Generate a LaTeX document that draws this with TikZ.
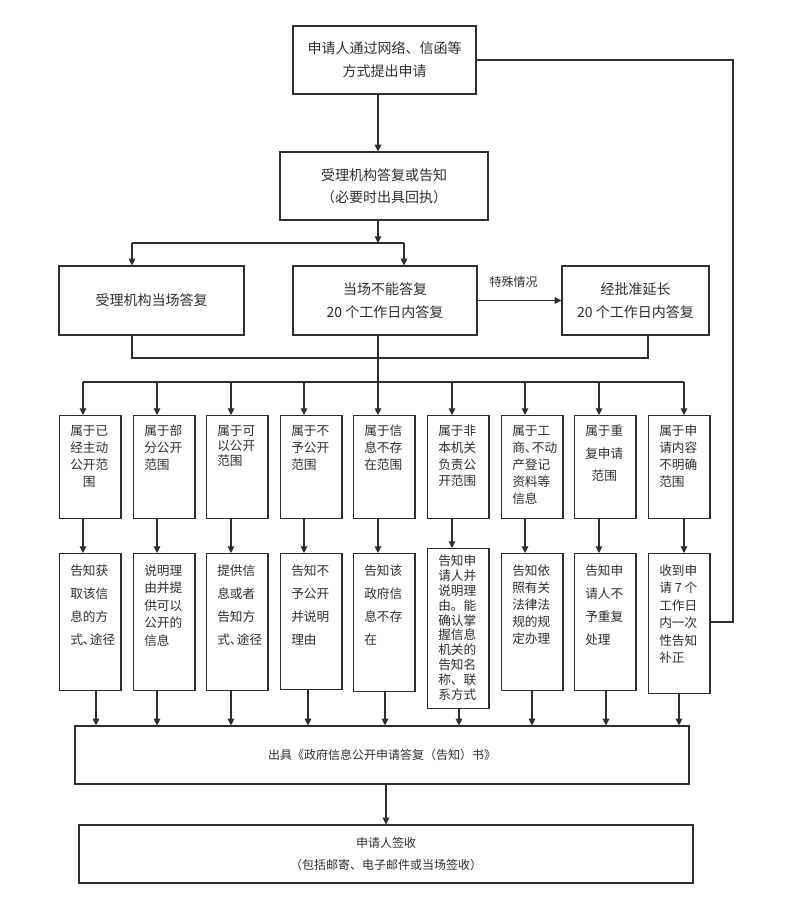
\documentclass[tikz,border=0pt]{standalone}
\usepackage{fontspec}
\setmainfont{Noto Sans CJK SC}
\usetikzlibrary{positioning,arrows.meta}
\definecolor{ink}{HTML}{2E2E2E}
\begin{document}
\begin{tikzpicture}[x=0.75pt,y=-0.75pt,
            every node/.style = {text=ink},
            box/.style = {draw=ink, line width=0.9pt, align=center,
                          font=\fontsize{10.5}{17.25}\selectfont},
            cell/.style = {draw=ink, line width=0.9pt, anchor=north west,
                           minimum width=46.1pt, inner sep=0pt},
            celltext/.style = {inner sep=0pt, align=left},
            conn/.style = {draw=ink, line width=0.8pt},
            arr/.style = {conn, -{Triangle[length=5pt,width=5pt]}}]
\useasboundingbox (0,0) rectangle (794,899);

% upper part
\node[box, minimum width=137.25pt, minimum height=51pt] (apply) at (384.5,60)
        {申请人通过网络、信函等\\方式提出申请};
\node[box, minimum width=156pt, minimum height=51pt,
      font=\fontsize{10.5}{16.5}\selectfont] (ack) at (384,186)
        {受理机构答复或告知\\（必要时出具回执）};
\node[box, minimum width=138.75pt, minimum height=51.75pt] (onsite) at (151.5,300.5)
        {受理机构当场答复};
\node[box, minimum width=138pt, minimum height=51.75pt] (defer) at (385,300.5)
        {当场不能答复\\20 个工作日内答复};
\node[box, minimum width=110.25pt, minimum height=51.75pt] (extend) at (635.5,300.5)
        {经批准延长\\20 个工作日内答复};

% lower part
\node[box, minimum width=460.5pt, minimum height=43.5pt,
      font=\fontsize{9}{16.5}\selectfont] (issue) at (382,755)
        {出具《政府信息公开申请答复（告知）书》};
\node[box, minimum width=460.5pt, minimum height=43.5pt,
      font=\fontsize{9}{16.5}\selectfont] (sign) at (386,854)
        {申请人签收\\（包括邮寄、电子邮件或当场签收）};

\coordinate (trunk) at (378,243);
\coordinate (brl) at (132,243);
\coordinate (brr) at (404,243);
\coordinate (jl) at (132,358);
\coordinate (jr) at (648,358);
\coordinate (rowl) at (83,382);
\coordinate (rowr) at (684,382);
\coordinate (back) at (733,622);

\draw[arr] (apply.south -| trunk) -- (ack.north -| trunk);
\draw[arr] (ack.south -| trunk) -- (trunk);
\draw[conn] (brl) -- (brr);
\draw[arr] (brl) -- (brl |- onsite.north);
\draw[arr] (brr) -- (brr |- defer.north);
\draw[arr] (defer.east) -- (extend.west)
        node[pos=0.43, above=6pt, font=\fontsize{9}{11}\selectfont] (special) {特殊情况};
\draw[conn] (jl |- onsite.south) -- (jl) -- (jr) -- (jr |- extend.south);
\draw[conn] (defer.south -| trunk) -- (trunk |- rowl);
\draw[conn] (rowl) -- (rowr);
\draw[arr] (issue.south -| sign.north) -- (sign.north);

% columns
\foreach \i/\x/\ax/\bx/\t/\h in {1/59/83/96/553/102.75pt, 2/133/157/157/553/102.75pt,
        3/206/231/231/553/102.75pt, 4/280/304/308/553/102pt, 5/353/378/385/553/103.5pt,
        6/427/452/459/548/120pt, 7/501/525/532/553/102.75pt, 8/574/599/606/553/102.75pt,
        9/648/684/679/553/105pt}{
    \node[cell, minimum height=77.25pt] (kind\i) at (\x,415) {};
    \node[cell, minimum height=\h] (reply\i) at (\x,\t) {};
    \coordinate (up\i) at (\ax,382);
    \coordinate (dn\i) at (\bx,726);
    \draw[arr] (up\i) -- (up\i |- kind\i.north);
    \draw[arr] (up\i |- kind\i.south) -- (up\i |- reply\i.north);
    \draw[arr] (dn\i |- reply\i.south) -- (dn\i |- issue.north);
}

\foreach \i/\ls/\txt in {1/12.75/{属于已\\经主动\\公开范\\\hspace*{1em}围},
        2/12.75/{属于部\\分公开\\范围}, 3/11.25/{属于可\\以公开\\范围},
        4/12.75/{属于不\\予公开\\范围}, 5/12.75/{属于信\\息不存\\在范围},
        6/12.5/{属于非\\本机关\\负责公\\开范围},
        7/12.75/{属于工\\商、\kern-.45em不动\\产登记\\资料等\\信息},
        8/16.9/{属于重\\复申请\\\hspace*{.5em}范围}, 9/12.75/{属于申\\请内容\\不明确\\范围}}
    \node[celltext, font=\fontsize{9.5}{\ls}\selectfont,
          below right=7.5pt and 8.25pt of kind\i.north west] (kindtext\i) {\txt};

\foreach \i/\ls/\dy/\txt in {1/17.25/8.5pt/{告知获\\取该信\\息的方\\式、\kern-.45em途径},
        2/13.1/8.5pt/{说明理\\由并提\\供可以\\公开的\\信息},
        3/17.25/8.5pt/{提供信\\息或者\\告知方\\式、\kern-.45em途径},
        4/17.25/8.5pt/{告知不\\予公开\\并说明\\理由}, 5/17.25/8.5pt/{告知该\\政府信\\息不存\\在},
        6/11.1/5.25pt/{告知申\\请人并\\说明理\\由。能\\确认掌\\握信息\\机关的\\告知名\\称、联\\系方式},
        7/12.75/8.5pt/{告知依\\照有关\\法律法\\规的规\\定办理},
        8/17.25/8.5pt/{告知申\\请人不\\予重复\\处理},
        9/13.1/8.5pt/{收到申\\请 7 个\\工作日\\内一次\\性告知\\补正}}
    \node[celltext, font=\fontsize{9.5}{\ls}\selectfont,
          below right=0pt and 8.25pt of reply\i.north west, yshift=-\dy] (replytext\i) {\txt};

% request incomplete: back to the applicant
\draw[conn] (reply9.east |- back) -- (back) -- (back |- apply.east) -- (apply.east);
\end{tikzpicture}
\end{document}
